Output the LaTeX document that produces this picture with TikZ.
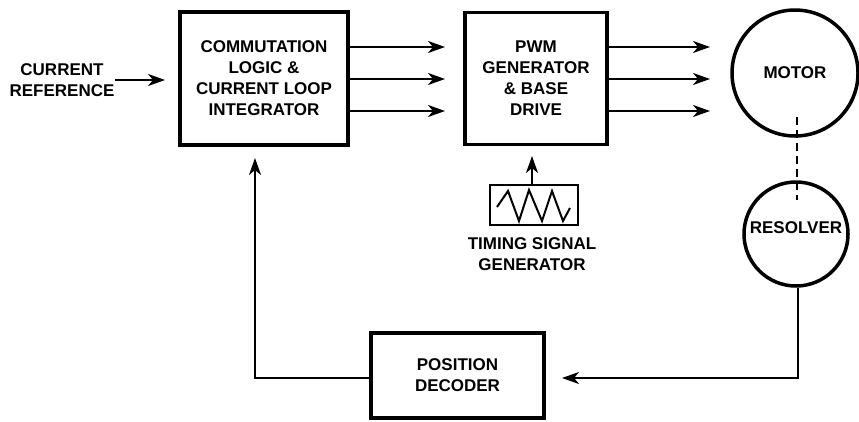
\documentclass[tikz,border=0pt]{standalone}
\usepackage{fontspec}
\setmainfont{Liberation Sans}
\usetikzlibrary{arrows.meta}
\begin{document}
\begin{tikzpicture}[x=1pt,y=-1pt,
  lbl/.style={font=\bfseries\fontsize{17}{21}\selectfont, align=center, inner sep=0pt},
  blockbox/.style={draw, line width=3.5pt, inner sep=0pt, font=\bfseries\fontsize{17}{21}\selectfont, align=center},
  roundbox/.style={draw, circle, line width=3.5pt, inner sep=0pt, font=\bfseries\fontsize{17}{21}\selectfont},
  conn/.style={line width=2.2pt, -{Stealth[length=17pt,width=12pt,inset=5pt]}},
  plain/.style={line width=2.2pt}]
\useasboundingbox (0,0) rectangle (859,421);
% nodes
\node[lbl] (cref) at (62,80) {CURRENT\\REFERENCE};
\node[blockbox, minimum width=168pt, minimum height=133pt] (comm) at (264,78.5) {COMMUTATION\\LOGIC \&\\CURRENT LOOP\\INTEGRATOR};
\node[blockbox, minimum width=142pt, minimum height=132pt] (pwm) at (536,78.5) {PWM\\GENERATOR\\\& BASE\\DRIVE};
\node[roundbox, minimum size=126pt] (motor) at (795,73) {MOTOR};
\node[roundbox, minimum size=104pt] (res) at (796,234) {};
\node[lbl] (restxt) at (796,228) {RESOLVER};
\node[draw, line width=2.2pt, minimum width=88pt, minimum height=40pt, inner sep=0pt] (tim) at (534,205) {};
\node[lbl] (timtxt) at (532,254) {TIMING SIGNAL\\GENERATOR};
\node[blockbox, minimum width=173pt, minimum height=85pt] (pos) at (457.5,375.5) {POSITION\\DECODER};
% free ends
\coordinate (crefstart) at (115,80);
\coordinate (crefend) at (165,80);
\foreach \y [count=\i] in {47,79,111} {
  \coordinate (a\i) at (348,\y);
  \coordinate (b\i) at (445,\y);
  \coordinate (c\i) at (607,\y);
  \coordinate (d\i) at (710,\y);
}
\coordinate (timend) at (532,156);
\coordinate (rescorner) at (798,378);
\coordinate (posend) at (562,378);
\coordinate (fbcorner) at (255,378);
\coordinate (fbend) at (255,158);
\coordinate (dashtop) at (797,117);
\coordinate (dashbot) at (797,200);
% connectors
\draw[conn] (crefstart) -- (crefend);
\foreach \i in {1,2,3} {
  \draw[conn] (a\i) -- (b\i);
  \draw[conn] (c\i) -- (d\i);
}
\draw[conn] (tim.north -| timend) -- (timend);
\draw[conn] (res.south -| rescorner) -- (rescorner) -- (posend);
\draw[conn] (pos.west |- fbcorner) -- (fbcorner) -- (fbend);
\draw[line width=2.2pt, dash pattern=on 8pt off 5pt] (dashtop) -- (dashbot);
% triangle wave
\draw[line width=2pt, line join=miter] (497,207) -- (508,191) -- (519,221) -- (529,190) -- (542,221) -- (552,191) -- (563,221) -- (570,208);
\end{tikzpicture}
\end{document}
